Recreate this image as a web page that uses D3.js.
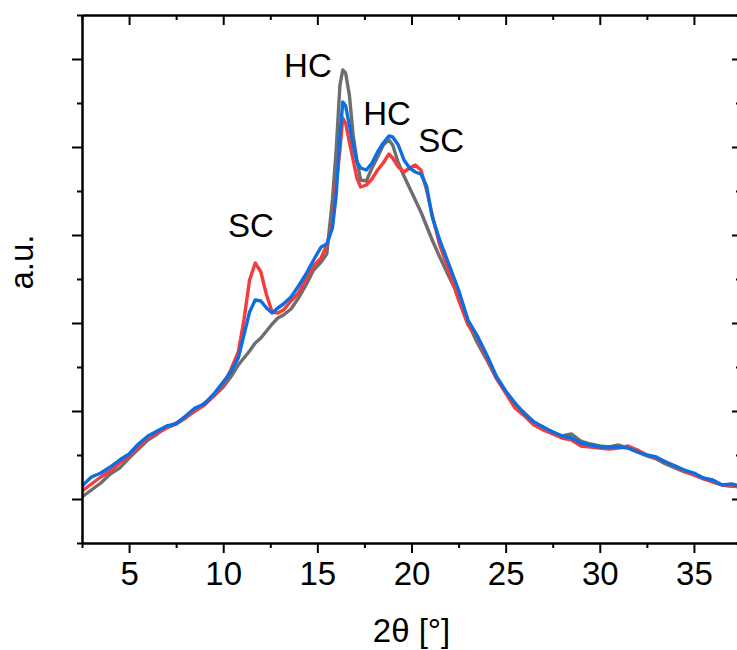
<!DOCTYPE html>
<html>
<head>
<meta charset="utf-8">
<script src="https://cdn.jsdelivr.net/npm/d3@7/dist/d3.min.js"></script>
<style>
  body { margin: 0; background: #fff; }
  svg text { font-family: "Liberation Sans", Arial, sans-serif; fill: #000; }
</style>
</head>
<body>
<div id="chart"></div>
<script>
// 2-theta positions shared by all three patterns
const angles = [2.5, 3, 3.5, 4, 4.5, 5, 5.5, 6, 6.5, 7, 7.5, 8, 8.5, 9, 9.5, 10,
  10.4, 10.8, 11.1, 11.4, 11.7, 12.0, 12.3, 12.6, 12.9, 13.2,
  13.6, 14.0, 14.4, 14.8, 15.2, 15.5, 15.8, 16.0, 16.2, 16.35, 16.5, 16.7, 16.9, 17.1, 17.3, 17.6, 17.9, 18.2, 18.5, 18.8,
  19.0, 19.3, 19.6, 19.9, 20.2, 20.5, 20.8, 21.1, 21.5,
  22, 22.5, 23, 23.5, 24, 24.5, 25, 25.5, 26, 26.5, 27, 27.5, 28, 28.5, 29, 29.5, 30, 30.5, 31, 31.5,
  32, 32.5, 33, 33.5, 34, 34.5, 35, 35.5, 36, 36.5, 37, 37.5];

const grayValues = [46, 53, 60, 69, 75, 85, 94, 103, 109, 116, 120, 126, 132, 140, 147, 156,
  166, 178, 185, 192, 200, 205, 212, 219, 225, 228,
  234, 245, 258, 273, 281, 289, 343, 393, 458, 473, 470, 448, 408, 383, 363, 362, 375, 386, 398, 403,
  398, 380, 367, 355, 343, 331, 317, 303, 286,
  266, 247, 220, 200, 183, 165, 151, 139, 130, 121, 115, 111, 107, 109, 102, 99, 97, 96, 98, 95,
  91, 87, 84, 79, 75, 71, 68, 65, 61, 58, 57, 56];

const redValues = [52, 59, 66, 72, 80, 87, 96, 105, 110, 115, 119, 125, 132, 138, 147, 158,
  173, 191, 223, 263, 280, 271, 248, 231, 230, 233,
  242, 250, 264, 277, 285, 298, 318, 358, 393, 425, 420, 401, 383, 365, 356, 358, 364, 373, 380, 389,
  385, 376, 371, 375, 378, 373, 353, 328, 298,
  271, 243, 218, 206, 185, 165, 150, 135, 127, 118, 113, 109, 105, 103, 97, 96, 95, 94, 95, 97,
  93, 88, 85, 81, 77, 72, 68, 64, 61, 58, 57, 56];

const blueValues = [57, 66, 70, 76, 83, 89, 99, 107, 112, 117, 119, 127, 135, 139, 149, 161,
  171, 185, 208, 231, 243, 242, 235, 230, 235, 239,
  246, 257, 269, 283, 296, 299, 315, 348, 408, 441, 437, 418, 398, 381, 375, 373, 380, 391, 400, 407,
  406, 398, 383, 375, 371, 369, 357, 326, 303,
  278, 253, 223, 207, 188, 167, 152, 140, 129, 121, 116, 111, 107, 105, 100, 98, 96, 96, 96, 95,
  91, 88, 86, 81, 77, 73, 70, 65, 63, 58, 59, 57];

const xTicks = [5, 10, 15, 20, 25, 30, 35];
const xMinorTicks = [2.5, 7.5, 12.5, 17.5, 22.5, 27.5, 32.5, 37.5];
const yTicks = [44, 132, 220, 308, 396, 484];
const yMinorTicks = [0, 88, 176, 264, 352, 440, 528];

const labels = [
  {text: "SC", x: 11.47, y: 306},
  {text: "HC", x: 14.5, y: 466},
  {text: "HC", x: 18.7, y: 418},
  {text: "SC", x: 21.57, y: 391}
];

const series = [
  {name: "gray", values: grayValues, color: "#6e6e6e"},
  {name: "red", values: redValues, color: "#f63b3b"},
  {name: "blue", values: blueValues, color: "#0b6fe3"}
];

const width = 737, height = 650;
const margin = {top: 15, right: -4, bottom: 107, left: 82};

const svg = d3.select("#chart")
  .append("svg")
  .attr("width", width)
  .attr("height", height);

const x = d3.scaleLinear()
  .domain([2.5, 37.5])
  .range([margin.left, width - margin.right]);

const y = d3.scaleLinear()
  .domain([0, 528])
  .range([height - margin.bottom, margin.top]);

const fontSize = "33px";

// clip the curves to the frame
svg.append("clipPath").attr("id", "clip")
  .append("rect")
  .attr("x", x(2.5)).attr("y", y(528))
  .attr("width", x(37.5) - x(2.5)).attr("height", y(0) - y(528));

const line = d3.line()
  .x((d, i) => x(angles[i]))
  .y(d => y(d));

svg.append("g").attr("clip-path", "url(#clip)")
  .selectAll("path")
  .data(series)
  .enter()
  .append("path")
  .attr("d", d => line(d.values))
  .attr("fill", "none")
  .attr("stroke", d => d.color)
  .attr("stroke-width", 3.4)
  .attr("stroke-linejoin", "round");

function styleAxis(g) {
  g.selectAll(".domain").attr("stroke", "#000").attr("stroke-width", 2);
  g.selectAll(".tick line").attr("stroke", "#000").attr("stroke-width", 2);
}

// bottom axis, major and minor
svg.append("g")
  .attr("transform", `translate(0,${y(0)})`)
  .call(d3.axisBottom(x).tickValues(xMinorTicks).tickSize(5).tickFormat("").tickSizeOuter(0))
  .call(styleAxis);
svg.append("g")
  .attr("transform", `translate(0,${y(0)})`)
  .call(d3.axisBottom(x).tickValues(xTicks).tickSize(10).tickPadding(9).tickSizeOuter(0))
  .call(styleAxis)
  .call(g => g.selectAll("text").style("font-size", fontSize));

// top axis, ticks pointing inward
svg.append("g")
  .attr("transform", `translate(0,${y(528)})`)
  .call(d3.axisTop(x).tickValues(xMinorTicks).tickSize(-5).tickFormat("").tickSizeOuter(0))
  .call(styleAxis);
svg.append("g")
  .attr("transform", `translate(0,${y(528)})`)
  .call(d3.axisTop(x).tickValues(xTicks).tickSize(-10).tickFormat("").tickSizeOuter(0))
  .call(styleAxis);

// left axis, no labels
svg.append("g")
  .attr("transform", `translate(${x(2.5)},0)`)
  .call(d3.axisLeft(y).tickValues(yMinorTicks).tickSize(5).tickFormat("").tickSizeOuter(0))
  .call(styleAxis);
svg.append("g")
  .attr("transform", `translate(${x(2.5)},0)`)
  .call(d3.axisLeft(y).tickValues(yTicks).tickSize(10).tickFormat("").tickSizeOuter(0))
  .call(styleAxis);

// right axis, ticks inward
svg.append("g")
  .attr("transform", `translate(${x(37.5)},0)`)
  .call(d3.axisRight(y).tickValues(yMinorTicks).tickSize(-5).tickFormat("").tickSizeOuter(0))
  .call(styleAxis);
svg.append("g")
  .attr("transform", `translate(${x(37.5)},0)`)
  .call(d3.axisRight(y).tickValues(yTicks).tickSize(-9).tickFormat("").tickSizeOuter(0))
  .call(styleAxis);

// axis titles
svg.append("text")
  .attr("x", (x(2.5) + x(37.5)) / 2)
  .attr("y", 642)
  .attr("text-anchor", "middle")
  .style("font-size", fontSize)
  .text("2θ [°]");

svg.append("text")
  .attr("transform", `translate(33,262) rotate(-90)`)
  .attr("text-anchor", "middle")
  .style("font-size", fontSize)
  .text("a.u.");

// peak labels
svg.selectAll(".peak")
  .data(labels)
  .enter()
  .append("text")
  .attr("class", "peak")
  .attr("x", d => x(d.x))
  .attr("y", d => y(d.y))
  .attr("text-anchor", "middle")
  .style("font-size", fontSize)
  .text(d => d.text);
</script>
</body>
</html>
